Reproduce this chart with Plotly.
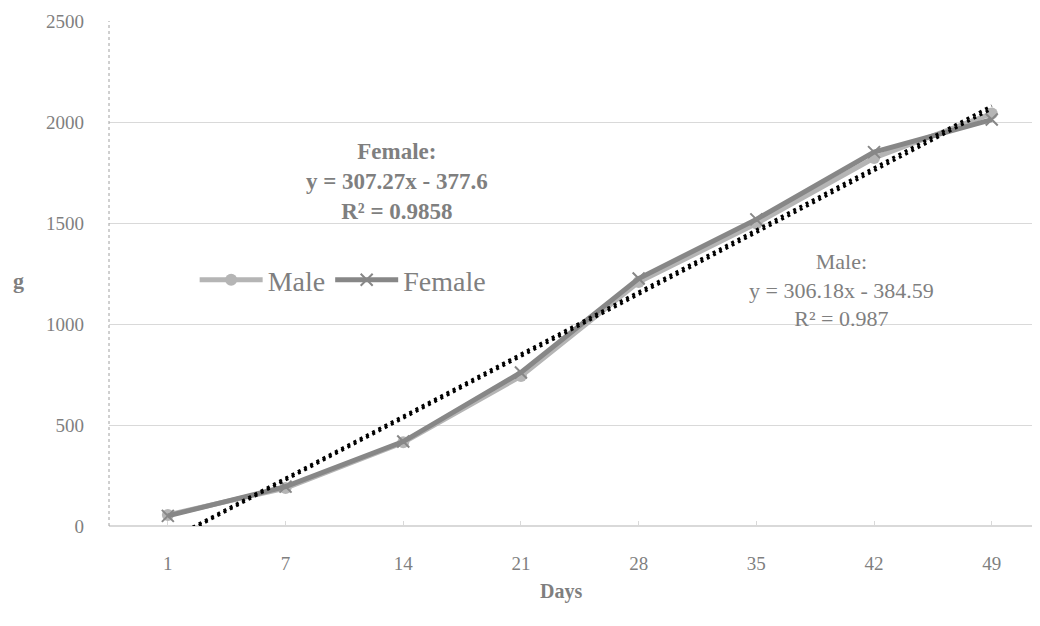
import plotly.graph_objects as go

days = ["1", "7", "14", "21", "28", "35", "42", "49"]
male = [55, 188, 414, 742, 1208, 1497, 1822, 2042]
female = [50, 195, 418, 760, 1225, 1518, 1851, 2012]

# trendline coefficients (as printed on the chart)
male_fit = (306.18, -384.59)
female_fit = (307.27, -377.6)
female_label = "<b>Female:<br>y = 307.27x - 377.6<br>R² = 0.9858</b>"
male_label = "Male:<br>y = 306.18x - 384.59<br>R² = 0.987"

xi = list(range(1, len(days) + 1))
FONT = "Liberation Serif"
GREY = "#7f7f7f"

fig = go.Figure()
fig.add_trace(go.Scatter(
    x=xi, y=male, name="Male", mode="lines+markers",
    line=dict(color="#b5b5b5", width=5),
    marker=dict(symbol="circle", size=12, color="#b5b5b5"),
))
fig.add_trace(go.Scatter(
    x=xi, y=female, name="Female", mode="lines+markers",
    line=dict(color="#878787", width=5),
    marker=dict(symbol="x-thin", size=12, color="#878787",
                line=dict(width=2, color="#878787")),
))
for a, b in (male_fit, female_fit):
    fig.add_trace(go.Scatter(
        x=[1, len(days)], y=[a * 1 + b, a * len(days) + b],
        mode="lines", showlegend=False, hoverinfo="skip",
        line=dict(color="black", width=3, dash="3px,4px"),
    ))

fig.add_annotation(x=2.95, y=1705, text=female_label, showarrow=False,
                   font=dict(family=FONT, size=23, color=GREY), align="center")
fig.add_annotation(x=6.72, y=1168, text=male_label, showarrow=False,
                   font=dict(family=FONT, size=22, color=GREY), align="center")
fig.add_annotation(xref="paper", yref="paper", x=(561 - 109) / 931, y=(526 - 591) / 505,
                   xanchor="center", yanchor="middle",
                   text="<b>Days</b>", showarrow=False,
                   font=dict(family=FONT, size=20, color=GREY))
fig.add_annotation(xref="paper", yref="paper", x=(18 - 109) / 931, y=(526 - 280) / 505,
                   xanchor="center", yanchor="middle",
                   text="<b>g</b>", showarrow=False,
                   font=dict(family=FONT, size=22, color=GREY))

fig.update_layout(
    width=1032, height=618,
    margin=dict(l=101, r=0, t=13, b=100),
    plot_bgcolor="white", paper_bgcolor="white",
    font=dict(family=FONT, size=19, color=GREY),
    legend=dict(orientation="h", x=0.092, y=0.487, xanchor="left", yanchor="middle",
                font=dict(family=FONT, size=28, color=GREY),
                bgcolor="rgba(0,0,0,0)", itemwidth=63, tracegroupgap=0),
    xaxis=dict(range=[0.5, 8.41], tickmode="array", tickvals=xi, ticktext=days,
               showgrid=False, zeroline=False, showline=False, automargin=False,
               ticks="inside", ticklen=5, tickcolor="#d9d9d9",
               ticklabelstandoff=24),
    yaxis=dict(range=[0, 2500], dtick=500, showgrid=True, gridcolor="#d9d9d9", gridwidth=1,
               zeroline=True, zerolinecolor="#d9d9d9", zerolinewidth=2,
               showline=False, automargin=False, ticklabelstandoff=24),
)
fig.add_shape(type="line", xref="paper", yref="paper", x0=0, x1=0, y0=0, y1=1,
              line=dict(color="#a0a0a0", width=1, dash="dot"))
fig.write_html("out.html")
